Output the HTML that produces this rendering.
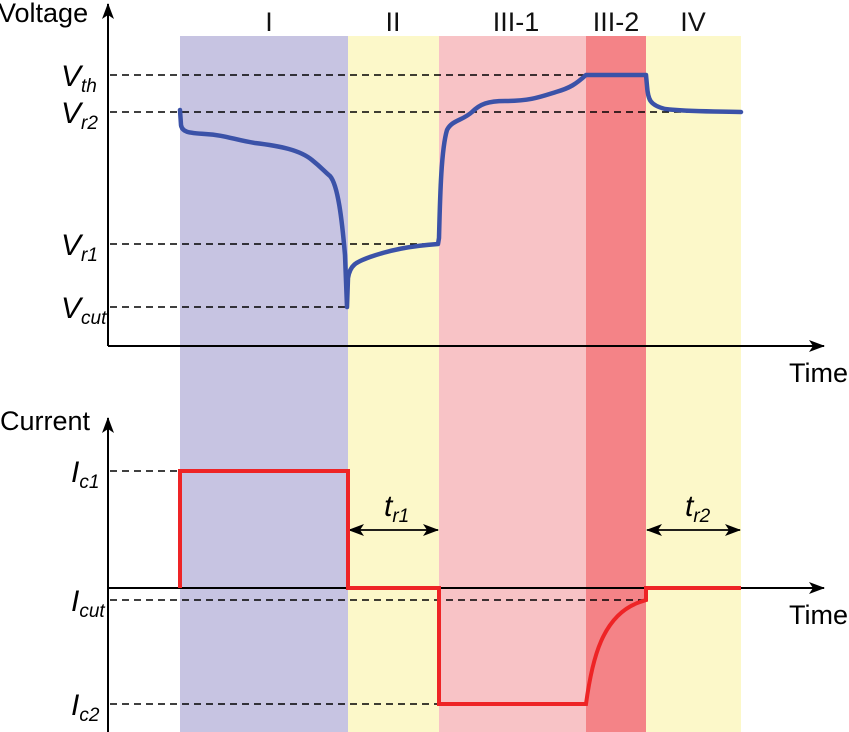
<!DOCTYPE html>
<html><head><meta charset="utf-8"><style>
html,body{margin:0;padding:0;background:#fff;}
svg{display:block;font-family:"Liberation Sans",Arial,sans-serif;}
</style></head><body>
<svg width="849" height="732" viewBox="0 0 849 732" xmlns="http://www.w3.org/2000/svg">
<defs>
<marker id="ah2" viewBox="0 0 16 12" refX="15" refY="6" markerWidth="16" markerHeight="12" markerUnits="userSpaceOnUse" orient="auto-start-reverse">
<path d="M0,0 L16,6 L0,12 L4,6 z" fill="#000"/></marker>
</defs>
<rect x="180" y="36" width="168" height="696" fill="#c7c4e2"/>
<rect x="348" y="36" width="91" height="696" fill="#fcf8c9"/>
<rect x="439" y="36" width="147" height="696" fill="#f8c3c6"/>
<rect x="586" y="36" width="60" height="696" fill="#f48387"/>
<rect x="646" y="36" width="95" height="696" fill="#fcf8c9"/>
<g font-size="27" text-anchor="middle" fill="#111">
<text x="269" y="31">I</text>
<text x="393" y="31">II</text>
<text x="516" y="31">III-1</text>
<text x="616" y="31">III-2</text>
<text x="693" y="31">IV</text>
</g>
<g stroke="#000" stroke-width="1.4" stroke-dasharray="7,5" fill="none">
<line x1="110" y1="75" x2="586" y2="75"/>
<line x1="110" y1="112" x2="741" y2="112"/>
<line x1="110" y1="244" x2="438" y2="244"/>
<line x1="110" y1="307" x2="347" y2="307"/>
<line x1="110" y1="471" x2="180" y2="471"/>
<line x1="110" y1="600" x2="646" y2="600"/>
<line x1="110" y1="704" x2="439" y2="704"/>
</g>
<g stroke="#000" stroke-width="2" fill="none">
<line x1="108" y1="346" x2="108" y2="4" marker-end="url(#ah2)"/>
<line x1="108" y1="346" x2="824" y2="346" marker-end="url(#ah2)"/>
<line x1="108" y1="732" x2="108" y2="418" marker-end="url(#ah2)"/>
<line x1="108" y1="588" x2="824" y2="588" marker-end="url(#ah2)"/>
</g>
<g font-size="27" fill="#000">
<text x="-2" y="22">Voltage</text>
<text x="789" y="382">Time</text>
<text x="0" y="430">Current</text>
<text x="789" y="624">Time</text>
</g>
<g font-size="30" font-style="italic" fill="#000">
<text x="61" y="86">V<tspan font-size="19" dy="6">th</tspan></text>
<text x="61" y="123">V<tspan font-size="19" dy="6">r2</tspan></text>
<text x="61" y="255">V<tspan font-size="19" dy="6">r1</tspan></text>
<text x="61" y="318">V<tspan font-size="19" dy="6">cut</tspan></text>
<text x="71" y="482">I<tspan font-size="19" dy="6">c1</tspan></text>
<text x="71" y="611">I<tspan font-size="19" dy="6">cut</tspan></text>
<text x="71" y="715">I<tspan font-size="19" dy="6">c2</tspan></text>
<text x="384" y="516">t<tspan font-size="19" dy="6">r1</tspan></text>
<text x="685" y="516">t<tspan font-size="19" dy="6">r2</tspan></text>
</g>
<g stroke="#000" stroke-width="1.8">
<line x1="349" y1="530" x2="438" y2="530" marker-start="url(#ah2)" marker-end="url(#ah2)"/>
<line x1="647" y1="530" x2="740" y2="530" marker-start="url(#ah2)" marker-end="url(#ah2)"/>
</g>
<path d="M180,110 L181,125 C182,132 188,133 205,134 C225,135 235,140 255,143 C280,146 300,150 312,160 C322,168 325,172 330,176 C338,185 342,220 345,255 L347,307 L348,278 C350,265 356,262 370,257 C390,250 410,246 438,244 L439,238 C440,200 441,150 447,130 C452,120 462,121 472,112 C480,104 488,101 505,101 C530,101 540,97 556,92 C570,88 576,84 586,75 L646,75 L647,86 C648,100 650,105 665,109 C690,112 710,111 741,112" fill="none" stroke="#3b52a8" stroke-width="4.5" stroke-linejoin="round" stroke-linecap="round"/>
<path d="M180,588 L180,471 L348,471 L348,588 L439,588 L439,704 L586,704 C592,660 602,615 640,602 L646,600 L646,588 L741,588" fill="none" stroke="#ee2426" stroke-width="4" stroke-linejoin="miter"/>
</svg>
</body></html>
